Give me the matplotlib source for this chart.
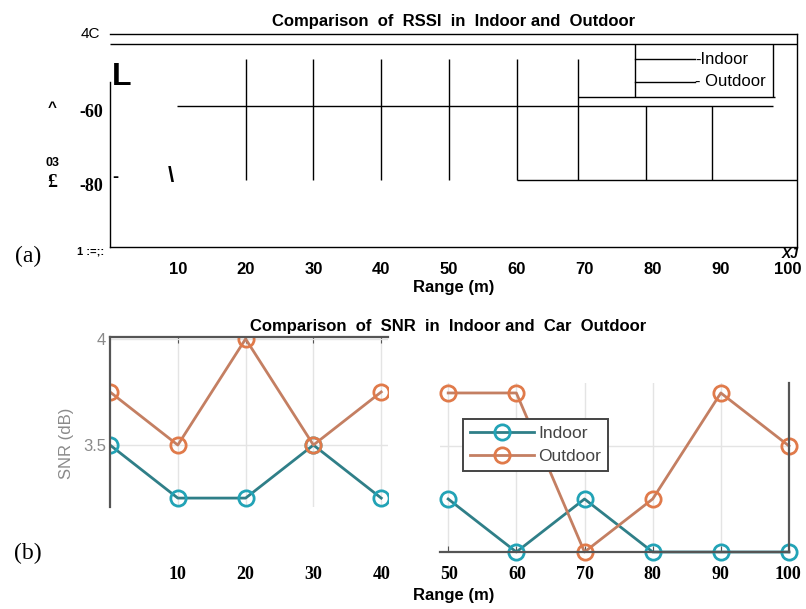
import matplotlib
matplotlib.use("Agg")
import matplotlib.pyplot as plt
import matplotlib.transforms as mtransforms

W, H = 806, 609

# ---- data ----
range_ticks = [10, 20, 30, 40, 50, 60, 70, 80, 90, 100]
rssi_ticks = [-60, -80]

# panel (a): line work of the RSSI plot as it survives, (x0, x1), (y0, y1)
rssi_segments = [
    ((0, 101.3), (-43.2, -43.2)),
    ((9.9, 97.8), (-60, -60)),
    ((60, 101.3), (-80, -80)),
    ((69.0, 98.1), (-57.6, -57.6)),
    ((20, 20), (-47.3, -80)),
    ((30, 30), (-47.3, -80)),
    ((40, 40), (-47.3, -80)),
    ((50, 50), (-47.3, -80)),
    ((60, 60), (-47.3, -80)),
    ((69.0, 69.0), (-47.3, -80)),
    ((79, 79), (-60, -80)),
    ((88.8, 88.8), (-60, -80)),
    ((77.4, 77.4), (-43.2, -57.6)),
    ((97.8, 97.8), (-43.2, -57.6)),
]
rssi_legend_labels = ["-Indoor", "- Outdoor"]
rssi_legend_y = [-47.3, -53.5]
rssi_legend_x = (77.4, 86.3)

# panel (b): SNR
snr_range = [0, 10, 20, 30, 40, 50, 60, 70, 80, 90, 100]
snr_indoor = [3.5, 3.25, 3.25, 3.5, 3.25, 3.25, 3.0, 3.25, 3.0, 3.0, 3.0]
snr_outdoor = [3.75, 3.5, 4.0, 3.5, 3.75, 3.75, 3.75, 3.0, 3.25, 3.75, 3.5]


def box(l, t, r, b):
    return [l / W, 1 - b / H, (r - l) / W, (b - t) / H]


def fx(x):
    return x / W


def fy(y):
    return 1 - y / H


SANS = "Liberation Sans"
SERIF = "Liberation Serif"

fig = plt.figure(figsize=(W / 100, H / 100), dpi=100)

# ---------------- panel (a) ----------------
ax = fig.add_axes(box(110, 34, 797, 247))
ax.set_xlim(0, 101.3)
ax.set_ylim(-98.1, -40.54)
for (xs, ys) in rssi_segments:
    ax.plot(xs, ys, color="black", lw=1.0, solid_capstyle="butt")
for lab, y in zip(rssi_legend_labels, rssi_legend_y):
    ax.plot(rssi_legend_x, [y, y], color="black", lw=1.0)
    ax.text(rssi_legend_x[1], y, lab, fontsize=12, family=SANS,
            va="center", ha="left")
for s in ax.spines.values():
    s.set_linewidth(1.0)
ax.spines["left"].set_bounds(-98.1, -53.5)
ax.set_xticks(range_ticks)
ax.set_xticklabels([str(v) for v in range_ticks], fontsize=12,
                   fontweight="bold", family=SANS)
ax.set_yticks(rssi_ticks)
ax.set_yticklabels([str(v) for v in rssi_ticks], fontsize=13,
                   fontweight="bold", family=SERIF)
ax.tick_params(axis="x", length=0, pad=11)
ax.tick_params(axis="y", length=0, pad=5)
shift = mtransforms.ScaledTranslation(0, -4 / 100, fig.dpi_scale_trans)
for lab in ax.get_yticklabels():
    lab.set_transform(lab.get_transform() + shift)
ax.set_xlabel("Range (m)", fontsize=12, fontweight="bold", family=SANS,
              labelpad=2)
ax.set_title("Comparison  of  RSSI  in  Indoor and  Outdoor", fontsize=12,
             fontweight="bold", family=SANS, pad=6)

fig.text(fx(100), fy(34), "4C", fontsize=11, family=SANS, ha="right", va="center")
fig.text(fx(104), fy(252), "1 :=;:", fontsize=8, fontweight="bold",
         family=SANS, ha="right", va="center")
fig.text(fx(52), fy(108), "^", fontsize=11, fontweight="bold", family=SANS,
         ha="center", va="center")
fig.text(fx(52), fy(163), "03", fontsize=9, fontweight="bold", family=SANS,
         ha="center", va="center")
fig.text(fx(52), fy(182), "£", fontsize=14, fontweight="bold", family=SERIF,
         ha="center", va="center")
fig.text(fx(112), fy(77), "L", fontsize=23, fontweight="bold", family=SANS,
         ha="left", va="center")
fig.text(fx(112), fy(177), "-", fontsize=13, fontweight="bold", family=SANS,
         ha="left", va="center")
fig.text(fx(171), fy(177), "\\", fontsize=16, fontweight="bold", family=SANS,
         ha="center", va="center")
fig.text(fx(790), fy(254), "XJ", fontsize=10, fontweight="bold",
         style="italic", family=SANS, ha="center", va="center")
fig.text(fx(28), fy(256), "(a)", fontsize=17, family=SERIF,
         ha="center", va="center")

# ---------------- panel (b) ----------------
axb = fig.add_axes(box(110, 330, 797, 552))
axb.set_xlim(0, 101.3)
axb.set_ylim(0, 1)
for s in axb.spines.values():
    s.set_visible(False)
axb.set_yticks([])
axb.set_xticks(range_ticks)
axb.set_xticklabels([str(v) for v in range_ticks], fontsize=13,
                    fontweight="bold", family=SERIF)
axb.tick_params(axis="x", length=0, pad=10)
axb.set_xlabel("Range (m)", fontsize=12, fontweight="bold", family=SANS,
               labelpad=4)
axb.patch.set_alpha(0)
fig.text(fx(448), fy(327), "Comparison  of  SNR  in  Indoor and  Car  Outdoor",
         fontsize=12, fontweight="bold", family=SANS, ha="center", va="center")
fig.text(fx(28), fy(553), "(b)", fontsize=17, family=SERIF,
         ha="center", va="center")

in_col, in_mk = "#2f7f88", "#22a3b6"
out_col, out_mk = "#c47f62", "#e07a4a"
gray = "#555555"
grid_col = "#e4e4e4"


def snr_lines(a, idx, clip):
    xs = [snr_range[i] for i in idx]
    a.plot(xs, [snr_indoor[i] for i in idx], color=in_col, lw=2.0,
           marker="o", ms=11, mfc="none", mec=in_mk, mew=2.0,
           clip_on=clip, label="Indoor")
    a.plot(xs, [snr_outdoor[i] for i in idx], color=out_col, lw=2.0,
           marker="o", ms=11, mfc="none", mec=out_mk, mew=2.0,
           clip_on=clip, label="Outdoor")


# left fragment (0-40 m)
axl = fig.add_axes(box(110, 337, 388, 507))
axl.set_xlim(0, 41.0)
axl.set_ylim(3.208, 4.009)
axl.set_xticks([10, 20, 30, 40])
axl.set_yticks([3.5, 4.0])
axl.set_yticklabels(["3.5", "4"], color="#8a8a8a", fontsize=12, family=SANS)
axl.tick_params(axis="x", labelbottom=False, bottom=False, top=True,
                direction="in", length=4, color=gray)
axl.tick_params(axis="y", length=0, pad=3)
axl.grid(True, color=grid_col, lw=1.0)
axl.set_axisbelow(True)
for k in ("right", "bottom"):
    axl.spines[k].set_visible(False)
for k in ("left", "top"):
    axl.spines[k].set_color(gray)
    axl.spines[k].set_linewidth(1.6)
snr_lines(axl, [i for i, r in enumerate(snr_range) if r <= 40], True)
fig.text(fx(67), fy(443), "SNR (dB)", rotation=90, color="#8a8a8a",
         fontsize=12, family=SANS, ha="center", va="center")

# right fragment (50-100 m)
axr = fig.add_axes(box(440, 383, 789, 552))
axr.set_xlim(48.8, 100)
axr.set_ylim(3.0, 3.797)
axr.set_xticks([50, 60, 70, 80, 90])
axr.set_yticks([3.5])
axr.tick_params(axis="x", labelbottom=False, direction="in", length=4,
                color=gray)
axr.tick_params(axis="y", left=False, labelleft=False)
axr.grid(True, color=grid_col, lw=1.0)
axr.set_axisbelow(True)
for k in ("left", "top"):
    axr.spines[k].set_visible(False)
for k in ("right", "bottom"):
    axr.spines[k].set_color(gray)
    axr.spines[k].set_linewidth(1.6)
snr_lines(axr, [i for i, r in enumerate(snr_range) if r >= 50], False)
leg = axr.legend(loc="upper left", bbox_to_anchor=(fx(463), fy(419)),
                 bbox_transform=fig.transFigure, borderaxespad=0,
                 fancybox=False, edgecolor="#444444", framealpha=1,
                 handlelength=3.7, handletextpad=0.25, borderpad=0.4,
                 labelspacing=0.45, prop={"family": SANS, "size": 12.5})
leg.get_frame().set_linewidth(1.4)
for t in leg.get_texts():
    t.set_color("#444444")

fig.savefig("out.png", dpi=100)
